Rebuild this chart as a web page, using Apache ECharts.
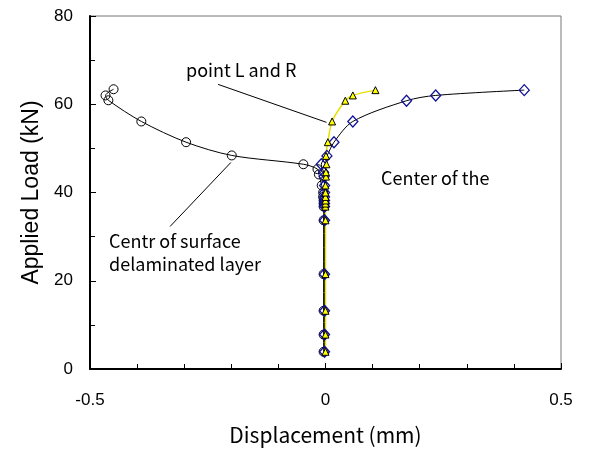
<!DOCTYPE html>
<html>
<head>
<meta charset="utf-8">
<script src="https://cdn.jsdelivr.net/npm/echarts@6/dist/echarts.min.js"></script>
<style>
  html, body { margin: 0; padding: 0; background: #fff; }
  #chart { width: 590px; height: 452px; }
</style>
</head>
<body>
<div id="chart"></div>
<script>
// 荷重ステップ (kN) - 下から上
var loadCircle = [3.9, 7.8, 13.2, 21.5, 33.7, 36.8, 37.5, 38.2, 39.0, 40.0, 41.6, 44.1, 45.3, 46.4, 48.4, 51.4, 56.1, 60.9, 62.0, 63.4];
var dispCircle = [-0.004, -0.004, -0.004, -0.004, -0.004, -0.004, -0.004, -0.004, -0.005, -0.005, -0.008, -0.014, -0.017, -0.047, -0.199, -0.296, -0.391, -0.461, -0.467, -0.450];

var loadDiamond = [3.9, 7.8, 13.2, 21.5, 33.7, 36.8, 37.5, 38.2, 39.0, 40.0, 41.6, 43.6, 44.6, 46.4, 48.3, 51.4, 56.1, 60.8, 62.0, 63.2];
var dispDiamond = [-0.002, -0.002, -0.002, -0.002, -0.002, -0.002, -0.002, -0.002, -0.002, -0.002, -0.002, -0.003, -0.004, -0.009, 0.003, 0.018, 0.058, 0.172, 0.234, 0.422];

var loadTriangle = [3.9, 7.8, 13.2, 21.5, 33.7, 36.8, 37.5, 38.2, 39.0, 40.0, 41.6, 43.6, 44.6, 46.4, 48.3, 51.4, 56.1, 60.8, 62.0, 63.2];
var dispTriangle = [0.000, 0.000, 0.000, 0.000, 0.000, 0.000, 0.000, 0.000, 0.000, 0.000, 0.000, 0.001, 0.001, 0.002, 0.001, 0.005, 0.014, 0.042, 0.058, 0.106];

var xTicks = [-0.5, 0, 0.5];
var yTicks = [0, 20, 40, 60, 80];

function pairs(xs, ys) {
  var out = [];
  for (var i = 0; i < xs.length; i++) out.push([xs[i], ys[i]]);
  return out;
}

var myChart = echarts.init(document.getElementById('chart'));
var jp = '"Noto Sans CJK JP", sans-serif';
var arial = 'Liberation Sans';

var option = {
  animation: false,
  grid: {
    left: 90, right: 29, top: 16, bottom: 83,
    containLabel: false, outerBoundsMode: 'none',
    show: true, borderColor: '#777', borderWidth: 1
  },
  xAxis: {
    type: 'value',
    min: xTicks[0], max: xTicks[xTicks.length - 1], interval: 0.5,
    name: 'Displacement (mm)', nameLocation: 'middle', nameGap: 56,
    nameTextStyle: { fontFamily: jp, fontSize: 21, color: '#000' },
    axisLine: { show: true, onZero: false, lineStyle: { color: '#000', width: 2 } },
    axisTick: { show: true, inside: true, length: 6, lineStyle: { color: '#000' } },
    minorTick: { show: true, splitNumber: 5, length: 5, lineStyle: { color: '#000' } },
    splitLine: { show: false },
    axisLabel: { margin: 23, fontFamily: arial, fontSize: 17, color: '#000',
      formatter: function (v) { return String(v); } }
  },
  yAxis: {
    type: 'value',
    min: yTicks[0], max: yTicks[yTicks.length - 1], interval: 20,
    name: 'Applied Load (kN)', nameLocation: 'middle', nameGap: 46,
    nameTextStyle: { fontFamily: arial, fontSize: 23, color: '#000' },
    axisLine: { show: true, onZero: false, lineStyle: { color: '#000', width: 2 } },
    axisTick: { show: true, inside: true, length: 6, lineStyle: { color: '#000' } },
    minorTick: { show: true, splitNumber: 2, length: 5, lineStyle: { color: '#000' } },
    splitLine: { show: false },
    axisLabel: { margin: 17, fontFamily: arial, fontSize: 17, color: '#000' }
  },
  series: [
    {
      name: 'Centr of surface delaminated layer',
      type: 'line',
      smooth: 0.3,
      data: pairs(dispCircle, loadCircle),
      symbol: 'circle', symbolSize: 9,
      itemStyle: { color: 'rgba(255,255,255,0)', borderColor: '#000', borderWidth: 1 },
      lineStyle: { color: '#000', width: 1 },
      markLine: {
        silent: true, symbol: ['none', 'none'], label: { show: false },
        lineStyle: { color: '#000', width: 1, type: 'solid' },
        data: [
          [{ coord: [-0.228, 64.5] }, { coord: [0.002, 55.9] }],
          [{ coord: [-0.201, 46.8] }, { coord: [-0.330, 32.3] }]
        ]
      }
    },
    {
      name: 'Center of the',
      type: 'line',
      smooth: 0.3,
      data: pairs(dispDiamond, loadDiamond),
      symbol: 'diamond', symbolSize: [10, 11],
      itemStyle: { color: 'rgba(255,255,255,0)', borderColor: '#10109a', borderWidth: 1.3 },
      lineStyle: { color: '#000', width: 1 }
    },
    {
      name: 'point L and R',
      type: 'line',
      smooth: 0.3,
      data: pairs(dispTriangle, loadTriangle),
      symbol: 'triangle', symbolSize: 7,
      itemStyle: { color: '#ffff00', borderColor: '#000', borderWidth: 1 },
      lineStyle: { color: '#e8e000', width: 1.5 }
    }
  ],
  graphic: [
    { type: 'text', left: 186, top: 61, style: { text: 'point L and R', font: '18px ' + jp, fill: '#000' } },
    { type: 'text', left: 381, top: 169, style: { text: 'Center of the', font: '18px ' + jp, fill: '#000' } },
    { type: 'text', left: 109, top: 230, style: { text: 'Centr of surface\ndelaminated layer', font: '18px ' + jp, fill: '#000', lineHeight: 23 } }
  ]
};
myChart.setOption(option);
</script>
</body>
</html>
